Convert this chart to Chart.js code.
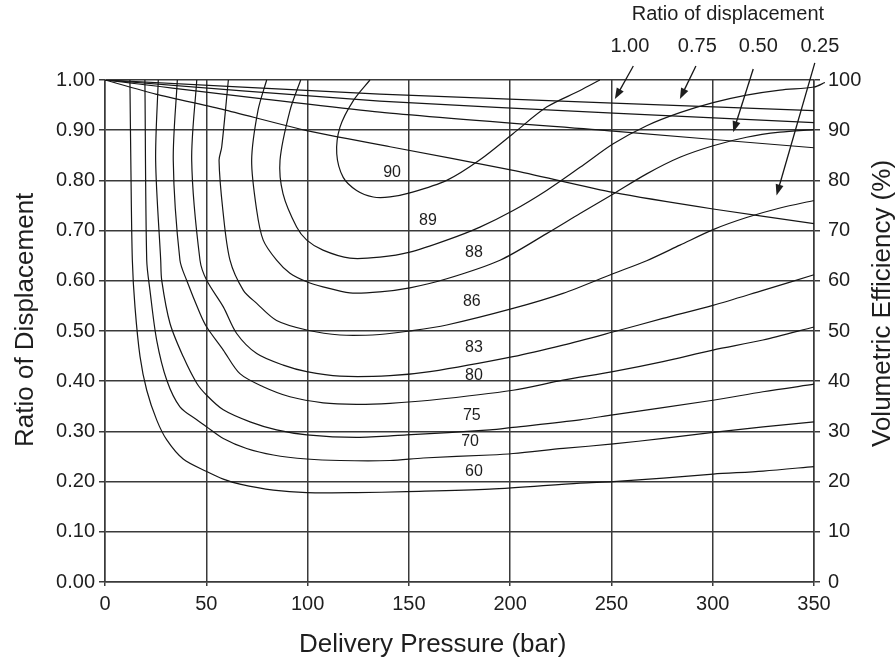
<!DOCTYPE html>
<html>
<head>
<meta charset="utf-8">
<script src="https://cdn.jsdelivr.net/npm/chart.js@4"></script>
<style>
  html, body { margin: 0; padding: 0; background: #fff; }
  #wrap { width: 895px; height: 663px; }
</style>
</head>
<body>
<div id="wrap"><canvas id="chart" width="895" height="663"></canvas></div>
<script>
// axis ticks
const pressureTicks = [0, 50, 100, 150, 200, 250, 300, 350];
const ratioTicks = [0, 0.1, 0.2, 0.3, 0.4, 0.5, 0.6, 0.7, 0.8, 0.9, 1.0];
const efficiencyTicks = [0, 10, 20, 30, 40, 50, 60, 70, 80, 90, 100];

// iso-efficiency contours, [delivery pressure (bar), ratio of displacement]
const contourLevels = ['60', '70', '75', '80', '83', '86', '88', '89', '90'];
const eff60 = [[12.3, 1.0], [12.8, 0.82], [13.5, 0.641], [14.8, 0.548], [17.3, 0.449], [20.6, 0.382], [25.5, 0.323], [30.5, 0.283], [38.6, 0.245], [50.2, 0.22], [58.4, 0.205], [66.6, 0.195], [83.1, 0.183], [99.6, 0.178], [124.2, 0.178], [148.9, 0.18], [190, 0.185], [234.5, 0.197], [250.9, 0.2], [275.6, 0.207], [300.2, 0.215], [324.9, 0.221], [350, 0.23]];
const eff70 = [[19.7, 1.0], [20.6, 0.641], [22.2, 0.581], [25.5, 0.482], [30.5, 0.402], [37.0, 0.349], [45.3, 0.323], [50.2, 0.309], [58.4, 0.286], [69.9, 0.266], [83.1, 0.253], [99.6, 0.245], [116, 0.242], [140.7, 0.242], [157.1, 0.247], [190, 0.253], [201.5, 0.256], [226.2, 0.266], [250.9, 0.275], [275.6, 0.286], [300.2, 0.298], [324.9, 0.309], [350, 0.319]];
const eff75 = [[26.3, 1.0], [25.0, 0.84], [27.5, 0.641], [28.0, 0.601], [32.1, 0.515], [38.6, 0.449], [45.3, 0.396], [50.2, 0.372], [58.4, 0.343], [71.6, 0.319], [84.7, 0.303], [99.6, 0.293], [124.2, 0.288], [148.9, 0.293], [190, 0.303], [201.4, 0.308], [234.5, 0.323], [250.7, 0.333], [300.1, 0.362], [324.8, 0.379], [350, 0.394]];
const eff80 = [[35.7, 1.0], [33.7, 0.84], [37.0, 0.641], [40.3, 0.601], [46.9, 0.535], [50.2, 0.508], [58.4, 0.462], [66.6, 0.415], [78.1, 0.389], [91.3, 0.369], [107.7, 0.357], [124.2, 0.354], [140.7, 0.356], [160.4, 0.362], [201.4, 0.382], [226.1, 0.402], [250.7, 0.419], [275.4, 0.439], [300.1, 0.462], [324.8, 0.482], [350, 0.508]];
const eff83 = [[45.3, 1.0], [42.8, 0.84], [46.9, 0.641], [50.2, 0.601], [58.4, 0.548], [65.0, 0.495], [74.9, 0.455], [88.0, 0.432], [99.6, 0.419], [116, 0.41], [140.7, 0.411], [160.4, 0.419], [201.4, 0.449], [226.1, 0.472], [250.7, 0.498], [275.4, 0.525], [300.1, 0.551], [324.8, 0.581], [350, 0.612]];
const eff86 = [[60.9, 1.0], [57.6, 0.866], [56.3, 0.84], [58.2, 0.74], [61.7, 0.641], [68.3, 0.581], [74.9, 0.555], [84.7, 0.521], [99.6, 0.502], [116, 0.492], [135.7, 0.493], [150.5, 0.5], [168.7, 0.512], [201.4, 0.545], [226.1, 0.575], [250.7, 0.614], [267.4, 0.64], [283.8, 0.671], [300.2, 0.702], [316.7, 0.726], [333.2, 0.745], [350, 0.76]];
const eff88 = [[79.8, 1.0], [75.5, 0.939], [72.4, 0.84], [74.9, 0.74], [78.1, 0.681], [84.7, 0.641], [91.3, 0.615], [99.6, 0.598], [107.6, 0.588], [120.9, 0.576], [135.7, 0.578], [150.5, 0.586], [168.7, 0.604], [195, 0.641], [218, 0.694], [234.5, 0.734], [250.9, 0.773], [267.4, 0.813], [283.8, 0.846], [300.2, 0.869], [316.7, 0.886], [333.2, 0.896], [350, 0.901]];
const eff89 = [[96.6, 1.0], [91.3, 0.939], [86.4, 0.84], [87.9, 0.773], [94.6, 0.707], [99.6, 0.681], [107.6, 0.661], [120.9, 0.645], [135.7, 0.647], [150.5, 0.657], [168.7, 0.681], [185.1, 0.707], [201.5, 0.74], [218, 0.78], [234.5, 0.826], [250.9, 0.873], [267.4, 0.909], [283.8, 0.935], [300.2, 0.955], [316.7, 0.97], [333.2, 0.98], [350, 0.986], [355.4, 0.995]];
const eff90 = [[130.8, 1.0], [122.6, 0.959], [116.0, 0.906], [114.4, 0.853], [117.6, 0.806], [124.2, 0.78], [132.4, 0.767], [140.7, 0.767], [150.5, 0.775], [168.7, 0.8], [185.1, 0.841], [201.4, 0.893], [218.0, 0.946], [234.5, 0.979], [244.3, 1.0]];
const contourLabelX = [182.1, 180.2, 181.1, 182.1, 182.1, 181.1, 182.1, 159.4, 141.7];
const contourLabelY = [0.219, 0.279, 0.331, 0.412, 0.466, 0.559, 0.657, 0.72, 0.816];

// volumetric efficiency (%) for each ratio of displacement, [pressure (bar), %]
const displacementRatios = ['1.00', '0.75', '0.50', '0.25'];
const volEff100 = [[0, 100], [135.7, 97.2], [250.9, 95.4], [350, 93.9]];
const volEff075 = [[0, 100], [135.7, 95.8], [250.9, 93.4], [350, 91.5]];
const volEff050 = [[0, 100], [135.7, 93.6], [250.9, 89.8], [350, 86.5]];
const volEff025 = [[0, 100], [25, 97.2], [58.5, 94.1], [99.6, 89.9], [140.7, 86.7], [201.5, 82.0], [250.9, 77.6], [300.2, 74.3], [350, 71.4]];
// header labels and arrows, in axis units (bar, ratio)
const ratioLabelX = [259.1, 292.4, 322.5, 352.9];
const arrowTail = [[260.8, 1.028], [291.7, 1.028], [320.0, 1.022], [350.4, 1.034]];
const arrowHead = [[251.7, 0.962], [283.8, 0.962], [310.1, 0.896], [331.5, 0.77]];

const FONT = '"Liberation Sans", Arial, Helvetica, sans-serif';
const TEXT = '#1e1e1e';
const GRID = '#3a3a3a';
const INK = '#161616';

const toXY = pts => pts.map(p => ({ x: p[0], y: p[1] }));

const contours = [eff60, eff70, eff75, eff80, eff83, eff86, eff88, eff89, eff90];
const effLines = [volEff100, volEff075, volEff050, volEff025];

const datasets = [];
contours.forEach((pts, i) => {
    datasets.push({
        label: contourLevels[i] + ' %',
        data: toXY(pts),
        yAxisID: 'y',
        showLine: true,
        borderColor: INK,
        borderWidth: 1.2,
        pointRadius: 0,
        tension: 0.3,
        clip: false
    });
});
effLines.forEach((pts, i) => {
    datasets.push({
        label: 'ratio ' + displacementRatios[i],
        data: toXY(pts),
        yAxisID: 'y2',
        showLine: true,
        borderColor: INK,
        borderWidth: 1.2,
        pointRadius: 0,
        tension: 0.2
    });
});

function drawArrow(ctx, x1, y1, x2, y2) {
    const a = Math.atan2(y2 - y1, x2 - x1);
    const L = 11, W = 4;
    const c = Math.cos(a), s = Math.sin(a);
    ctx.beginPath();
    ctx.moveTo(x1, y1);
    ctx.lineTo(x2 - L * 0.8 * c, y2 - L * 0.8 * s);
    ctx.stroke();
    ctx.beginPath();
    ctx.moveTo(x2, y2);
    ctx.lineTo(x2 - L * c + W * s, y2 - L * s - W * c);
    ctx.lineTo(x2 - L * c - W * s, y2 - L * s + W * c);
    ctx.closePath();
    ctx.fill();
}

// axis titles: both side titles read bottom-to-top, so they are drawn here
function drawTitles(chart) {
    const { ctx, chartArea } = chart;
    ctx.save();
    ctx.fillStyle = TEXT;
    ctx.font = '26px ' + FONT;
    ctx.textBaseline = 'alphabetic';
    ctx.textAlign = 'left';
    ctx.fillText('Delivery Pressure (bar)', chartArea.left + 194, chartArea.bottom + 70);

    ctx.save();
    ctx.translate(33, chartArea.bottom - 135);
    ctx.rotate(-Math.PI / 2);
    ctx.fillText('Ratio of Displacement', 0, 0);
    ctx.restore();

    ctx.save();
    ctx.translate(chartArea.right + 76, chartArea.bottom - 135);
    ctx.rotate(-Math.PI / 2);
    ctx.fillText('Volumetric Efficiency (%)', 0, 0);
    ctx.restore();
    ctx.restore();
}

const annotations = {
    id: 'annotations',
    afterDatasetsDraw(chart) {
        const { ctx } = chart;
        const x = chart.scales.x, y = chart.scales.y;
        ctx.save();
        ctx.fillStyle = TEXT;
        ctx.strokeStyle = INK;
        ctx.lineWidth = 1.3;
        ctx.textAlign = 'center';
        ctx.textBaseline = 'middle';

        ctx.font = '16px ' + FONT;
        contourLevels.forEach((lvl, i) => {
            ctx.fillText(lvl, x.getPixelForValue(contourLabelX[i]), y.getPixelForValue(contourLabelY[i]));
        });

        ctx.font = '20px ' + FONT;
        ctx.fillText('Ratio of displacement', x.getPixelForValue(307.5), y.getPixelForValue(1.13));
        displacementRatios.forEach((r, i) => {
            ctx.fillText(r, x.getPixelForValue(ratioLabelX[i]), y.getPixelForValue(1.066));
        });

        arrowTail.forEach((t, i) => {
            const h = arrowHead[i];
            drawArrow(ctx, x.getPixelForValue(t[0]), y.getPixelForValue(t[1]),
                x.getPixelForValue(h[0]), y.getPixelForValue(h[1]));
        });
        ctx.restore();
        drawTitles(chart);
    }
};

const tickFont = { family: FONT, size: 20 };

new Chart(document.getElementById('chart'), {
    type: 'scatter',
    data: { datasets: datasets },
    options: {
        responsive: false,
        animation: false,
        layout: { padding: { top: 80, left: 0, right: 0, bottom: 0 } },
        plugins: {
            legend: { display: false },
            tooltip: { enabled: false }
        },
        scales: {
            x: {
                type: 'linear',
                position: 'bottom',
                min: 0,
                max: 350,
                afterBuildTicks: s => { s.ticks = pressureTicks.map(v => ({ value: v })); },
                afterFit: s => { s.height = 81; },
                ticks: { color: TEXT, font: tickFont, padding: 6, maxRotation: 0 },
                grid: { color: GRID, lineWidth: 1.5, tickLength: 4, tickColor: GRID },
                border: { color: GRID, width: 1.5 }
            },
            y: {
                type: 'linear',
                position: 'left',
                min: 0,
                max: 1,
                afterBuildTicks: s => { s.ticks = ratioTicks.map(v => ({ value: v })); },
                afterFit: s => { s.width = 105; },
                ticks: { color: TEXT, font: tickFont, padding: 4, callback: v => v.toFixed(2) },
                grid: { color: GRID, lineWidth: 1.5, tickLength: 6, tickColor: GRID },
                border: { color: GRID, width: 1.5 }
            },
            y2: {
                type: 'linear',
                position: 'right',
                min: 0,
                max: 100,
                afterBuildTicks: s => { s.ticks = efficiencyTicks.map(v => ({ value: v })); },
                afterFit: s => { s.width = 81; },
                ticks: { color: TEXT, font: tickFont, padding: 8 },
                grid: { drawOnChartArea: false, lineWidth: 1.5, tickLength: 6, tickColor: GRID },
                border: { color: GRID, width: 1.5 }
            }
        }
    },
    plugins: [annotations]
});
</script>
</body>
</html>
